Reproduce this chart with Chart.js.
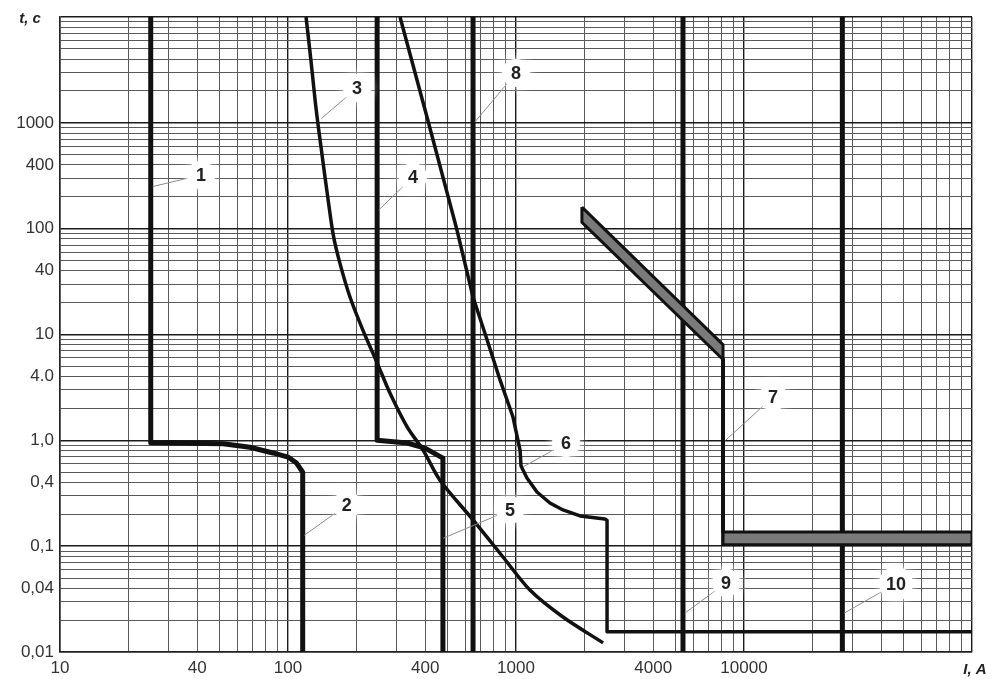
<!DOCTYPE html>
<html>
<head>
<meta charset="utf-8">
<script src="https://cdn.jsdelivr.net/npm/chart.js@4.4.0/dist/chart.umd.min.js"></script>
<style>
  html, body { margin: 0; padding: 0; background: #fff; }
  #wrap { position: relative; width: 993px; height: 679px; }
</style>
</head>
<body>
<div id="wrap"><canvas id="myChart"></canvas></div>
<script>
// characteristics: current I (A) and time t (s)
const c1I = [25, 25, 52, 68, 86, 100, 109, 116, 116]; // 1 + 2
const c1T = [10000, 0.95, 0.93, 0.86, 0.76, 0.695, 0.61, 0.5, 0.01];

const c3I = [120, 126, 133, 142, 150, 158, 169, 187, 213, 246, 280, 333, 391, 464, 648, 877, 1151, 1607, 2409];
const c3T = [10000, 3925, 1321, 446, 187, 87, 47, 22.6, 11, 5.4, 2.8, 1.34, 0.81, 0.42, 0.177, 0.079, 0.0385, 0.0214, 0.0122];

const c4I = [246, 246, 333, 399, 478, 478]; // 4 + 5
const c4T = [10000, 1.0, 0.944, 0.845, 0.68, 0.01];

const c6I = [310, 407, 551, 648, 747, 851, 970, 1042, 1052, 1117, 1236, 1409, 1607, 1910, 2455, 2508, 2508, 100000];
const c6T = [10000, 1135, 97, 22.6, 8.87, 3.72, 1.66, 0.81, 0.571, 0.44, 0.325, 0.256, 0.22, 0.193, 0.181, 0.175, 0.0155, 0.0155];

const c7bandI = [1946, 8090, 8090, 1946, 1946];
const c7bandT = [160, 8, 5.8, 115, 160];
const c7vertI = [8090, 8090];
const c7vertT = [5.8, 0.136];
const c7flatI = [8090, 100000, 100000, 8090, 8090];
const c7flatT = [0.136, 0.136, 0.103, 0.103, 0.136];

const c8I = [648, 648];
const c9I = [5400, 5400];
const c10I = [27000, 27000];
const fullT = [10000, 0.01];

// curve numbers and where their leader lines touch
const labelText = ['1', '2', '3', '4', '5', '6', '7', '8', '9', '10'];
const labelI = [41.5, 181, 201, 353, 942, 1656, 13400, 1000, 8340, 46400];
const labelT = [321, 0.245, 2134, 308, 0.22, 0.944, 2.57, 2958, 0.045, 0.0443];
const leaderI = [25.5, 118, 140, 250, 480, 1074, 8300, 660, 5500, 27500];
const leaderT = [250, 0.127, 1100, 150, 0.119, 0.56, 1.0, 1019, 0.0233, 0.0233];

// axes
const xLabelVals = [10, 40, 100, 400, 1000, 4000, 10000];
const xLabelText = ['10', '40', '100', '400', '1000', '4000', '10000'];
const yLabelVals = [0.01, 0.04, 0.1, 0.4, 1, 4, 10, 40, 100, 400, 1000];
const yLabelText = ['0,01', '0,04', '0,1', '0,4', '1,0', '4.0', '10', '40', '100', '400', '1000'];

function logGrid(from, to) {
  const out = [];
  for (let d = from; d < to; d *= 10) {
    for (let k = 1; k <= 9; k++) out.push(Math.round(k * d * 1e6) / 1e6);
  }
  out.push(to);
  return out;
}
const gridX = logGrid(10, 100000);
const gridY = logGrid(0.01, 10000);

function pts(xs, ys) {
  return xs.map((x, i) => ({ x: x, y: ys[i] }));
}
function sameVal(a, b) {
  return Math.abs(Math.log10(a) - Math.log10(b)) < 1e-6;
}
function isDecade(v) {
  return Math.abs(Math.log10(v) - Math.round(Math.log10(v))) < 1e-6;
}

function curve(data, width, tension) {
  return {
    data: data,
    borderColor: '#111',
    borderWidth: width,
    tension: tension || 0,
    pointRadius: 0,
    fill: false,
    borderJoinStyle: 'round'
  };
}
function band(data) {
  return {
    data: data,
    borderColor: '#111',
    borderWidth: 3,
    backgroundColor: '#7a7a7a',
    pointRadius: 0,
    fill: 'shape',
    borderJoinStyle: 'miter'
  };
}

const curveLabels = {
  id: 'curveLabels',
  afterDatasetsDraw(chart) {
    const { ctx, scales: { x, y }, chartArea } = chart;
    ctx.save();
    labelText.forEach((txt, i) => {
      const lx = x.getPixelForValue(labelI[i]);
      const ly = y.getPixelForValue(labelT[i]);
      const ex = x.getPixelForValue(leaderI[i]);
      const ey = y.getPixelForValue(leaderT[i]);
      ctx.strokeStyle = '#8a8a8a';
      ctx.lineWidth = 1;
      ctx.beginPath();
      ctx.moveTo(ex, ey);
      ctx.lineTo(lx, ly);
      ctx.stroke();
      ctx.fillStyle = '#fff';
      ctx.shadowColor = '#fff';
      ctx.shadowBlur = 10;
      ctx.beginPath();
      ctx.arc(lx, ly, txt.length > 1 ? 17 : 14, 0, Math.PI * 2);
      ctx.fill();
      ctx.shadowBlur = 0;
      ctx.fillStyle = '#222';
      ctx.font = 'bold 18px "Liberation Sans", Arial, sans-serif';
      ctx.textAlign = 'center';
      ctx.textBaseline = 'middle';
      ctx.fillText(txt, lx, ly + 1);
    });
    // axis names
    ctx.fillStyle = '#222';
    ctx.font = 'bold italic 15px "Liberation Sans", Arial, sans-serif';
    ctx.textAlign = 'center';
    ctx.textBaseline = 'middle';
    ctx.fillText('t, c', chartArea.left - 30, chartArea.top + 2);
    ctx.fillText('I, A', chartArea.right + 3, chartArea.bottom + 18);
    ctx.restore();
  }
};

const ctx = document.getElementById('myChart').getContext('2d');

const chart = new Chart(ctx, {
  type: 'line',
  data: {
    datasets: [
      curve(pts(c1I, c1T), 5),
      curve(pts(c3I, c3T), 3.5, 0.3),
      curve(pts(c4I, c4T), 5),
      curve(pts(c6I, c6T), 3.5),
      band(pts(c7bandI, c7bandT)),
      curve(pts(c7vertI, c7vertT), 4),
      band(pts(c7flatI, c7flatT)),
      curve(pts(c8I, fullT), 5),
      curve(pts(c9I, fullT), 5),
      curve(pts(c10I, fullT), 5)
    ]
  },
  options: {
    responsive: true,
    maintainAspectRatio: false,
    animation: false,
    layout: { padding: { top: 17, right: 21, left: 0, bottom: 0 } },
    plugins: { legend: { display: false }, tooltip: { enabled: false } },
    scales: {
      x: {
        type: 'logarithmic',
        min: 10,
        max: 100000,
        afterBuildTicks: s => { s.ticks = gridX.map(v => ({ value: v })); },
        afterFit: s => { s.height = 27; },
        ticks: {
          autoSkip: false,
          maxRotation: 0,
          padding: 6,
          color: '#333',
          font: { family: '"Liberation Sans", Arial, sans-serif', size: 17 },
          callback: v => {
            const i = xLabelVals.findIndex(l => sameVal(l, v));
            return i >= 0 ? xLabelText[i] : '';
          }
        },
        grid: {
          drawTicks: false,
          color: c => isDecade(c.tick.value) ? '#1a1a1a' : '#5a5a5a',
          lineWidth: c => isDecade(c.tick.value) ? 1.4 : 1
        },
        border: { color: '#222', width: 1.5 }
      },
      y: {
        type: 'logarithmic',
        min: 0.01,
        max: 10000,
        afterBuildTicks: s => { s.ticks = gridY.map(v => ({ value: v })); },
        afterFit: s => { s.width = 60; },
        ticks: {
          autoSkip: false,
          padding: 6,
          color: '#333',
          font: { family: '"Liberation Sans", Arial, sans-serif', size: 17 },
          callback: v => {
            const i = yLabelVals.findIndex(l => sameVal(l, v));
            return i >= 0 ? yLabelText[i] : '';
          }
        },
        grid: {
          drawTicks: false,
          color: c => isDecade(c.tick.value) ? '#1a1a1a' : '#5a5a5a',
          lineWidth: c => isDecade(c.tick.value) ? 1.4 : 1
        },
        border: { color: '#222', width: 1.5 }
      }
    }
  },
  plugins: [curveLabels]
});
</script>
</body>
</html>
